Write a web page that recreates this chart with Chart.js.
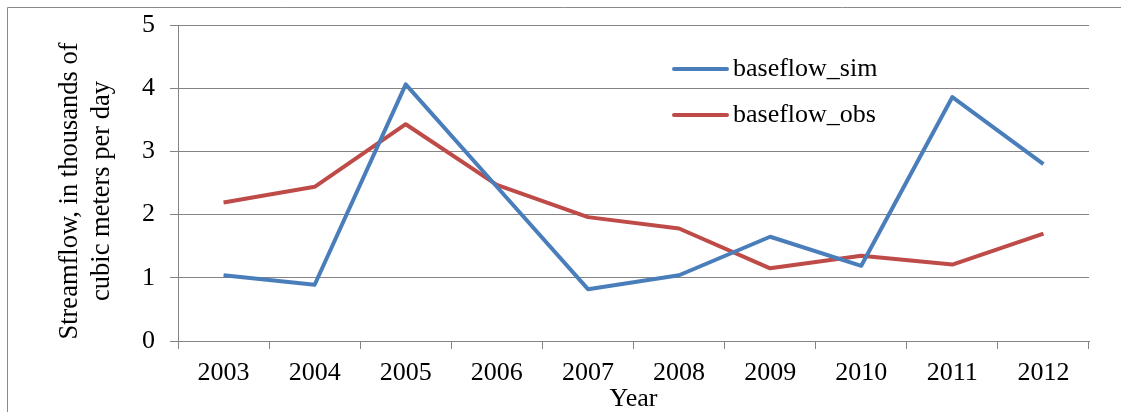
<!DOCTYPE html>
<html>
<head>
<meta charset="utf-8">
<script src="https://cdn.jsdelivr.net/npm/chart.js@4"></script>
<style>
  html, body { margin: 0; padding: 0; background: #fff; }
  #wrap { width: 1121px; height: 412px; }
</style>
</head>
<body>
<div id="wrap"><canvas id="flowChart"></canvas></div>
<script>
const years = ['2003', '2004', '2005', '2006', '2007', '2008', '2009', '2010', '2011', '2012'];
const baseflowSim = [1.04, 0.89, 4.06, 2.44, 0.82, 1.04, 1.65, 1.19, 3.86, 2.80];
const baseflowObs = [2.19, 2.44, 3.43, 2.47, 1.96, 1.78, 1.15, 1.35, 1.21, 1.70];
const yTicks = [0, 1, 2, 3, 4, 5];
const yTitle = ['Streamflow, in thousands of', 'cubic meters per day'];

const FONT = "'Liberation Serif', 'Times New Roman', serif";
const GRID = '#848484';

// frame round the whole figure (left and top edges only, like the source)
const framePlugin = {
    id: 'frame',
    beforeDraw(chart) {
        const ctx = chart.ctx;
        ctx.save();
        ctx.strokeStyle = '#8a8a8a';
        ctx.lineWidth = 1;
        ctx.beginPath();
        ctx.moveTo(7.5, chart.height);
        ctx.lineTo(7.5, 7.5);
        ctx.lineTo(chart.width, 7.5);
        ctx.stroke();
        ctx.restore();
    }
};

// y title sits a little below the axis middle in the source, so draw it here
const yTitlePlugin = {
    id: 'yTitle',
    afterDraw(chart) {
        const ctx = chart.ctx;
        ctx.save();
        ctx.translate(70, 191);
        ctx.rotate(-Math.PI / 2);
        ctx.fillStyle = '#000';
        ctx.font = '26.5px ' + FONT;
        ctx.textAlign = 'center';
        ctx.textBaseline = 'middle';
        yTitle.forEach((line, i) => ctx.fillText(line, 0, i * 32));
        ctx.restore();
    }
};

// legend sits inside the plot, top right
const innerLegend = {
    id: 'innerLegend',
    afterDraw(chart) {
        const ctx = chart.ctx;
        const x0 = 674, x1 = 727, y0 = 69, gap = 46;
        ctx.save();
        chart.data.datasets.forEach((ds, i) => {
            const y = y0 + i * gap;
            ctx.strokeStyle = ds.borderColor;
            ctx.lineWidth = 4;
            ctx.lineCap = 'round';
            ctx.beginPath();
            ctx.moveTo(x0, y);
            ctx.lineTo(x1, y);
            ctx.stroke();
            ctx.fillStyle = '#000';
            ctx.font = '26px ' + FONT;
            ctx.textBaseline = 'middle';
            ctx.textAlign = 'left';
            ctx.fillText(ds.label, x1 + 6, y);
        });
        ctx.restore();
    }
};

new Chart(document.getElementById('flowChart'), {
    type: 'line',
    data: {
        labels: years,
        datasets: [
            {
                label: 'baseflow_sim',
                data: baseflowSim,
                borderColor: '#4a7ebb',
                borderWidth: 4,
                pointRadius: 0,
                tension: 0,
                borderJoinStyle: 'round'
            },
            {
                label: 'baseflow_obs',
                data: baseflowObs,
                borderColor: '#be4b48',
                borderWidth: 4,
                pointRadius: 0,
                tension: 0,
                borderJoinStyle: 'round'
            }
        ]
    },
    options: {
        responsive: true,
        maintainAspectRatio: false,
        animation: false,
        layout: { padding: { left: 0, top: 25, right: 32, bottom: 0 } },
        plugins: {
            legend: { display: false },
            tooltip: { enabled: false }
        },
        scales: {
            x: {
                offset: true,
                grid: {
                    offset: true,
                    drawOnChartArea: false,
                    drawTicks: true,
                    tickLength: 8,
                    color: GRID,
                    lineWidth: 1
                },
                border: { color: GRID, width: 1 },
                ticks: {
                    color: '#000',
                    font: { family: FONT, size: 26 },
                    padding: 9,
                    maxRotation: 0
                },
                title: {
                    display: true,
                    text: 'Year',
                    color: '#000',
                    font: { family: FONT, size: 26, lineHeight: 1.0 },
                    padding: { top: 0, bottom: 0 }
                },
                afterFit(scale) { scale.height = 71; }
            },
            y: {
                min: 0,
                max: 5,
                afterBuildTicks(scale) { scale.ticks = yTicks.map(v => ({ value: v })); },
                grid: {
                    color: GRID,
                    lineWidth: 1,
                    tickLength: 8
                },
                border: { color: GRID, width: 1 },
                ticks: {
                    color: '#000',
                    // small lineHeight keeps the top label from pushing the plot down
                    font: { family: FONT, size: 26, lineHeight: 0.4 },
                    padding: 15
                },
                title: { display: false },
                afterFit(scale) { scale.width = 178; }
            }
        }
    },
    plugins: [framePlugin, yTitlePlugin, innerLegend]
});
</script>
</body>
</html>
